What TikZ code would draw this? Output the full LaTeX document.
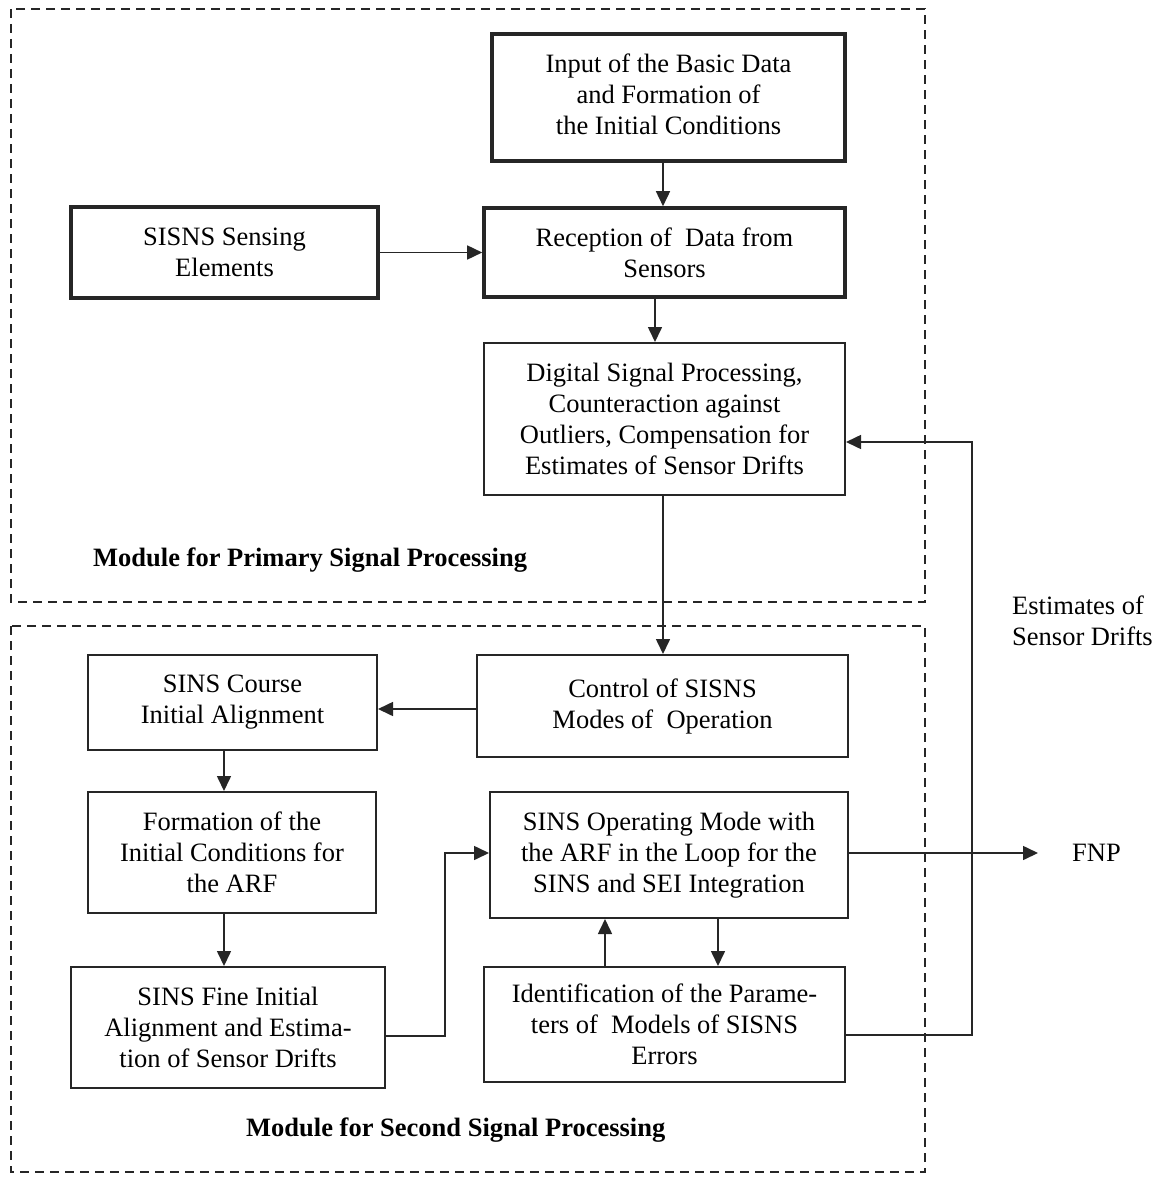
\documentclass[tikz,border=0pt]{standalone}
\usepackage{fontspec}
\setmainfont{Liberation Serif}
\usetikzlibrary{arrows.meta}
\begin{document}
\begin{tikzpicture}[x=1pt,y=-1pt,
  every node/.style={font=\fontsize{26.5}{31}\selectfont, align=center, inner sep=0pt},
  box/.style={draw=black!85, line width=2pt},
  tbox/.style={draw=black!85, line width=3.6pt},
  conn/.style={line width=1.6pt, draw=black!85},
  arr/.style={conn, -{Triangle[length=15pt,width=14pt]}},
  module/.style={draw=black!85, line width=2pt, dash pattern=on 9pt off 6pt},
  lbl/.style={font=\fontsize{26.5}{31}\selectfont\bfseries}
]
\useasboundingbox (0,0) rectangle (1157,1180);
% modules
\draw[module] (11,9) rectangle (925,602);
\draw[module] (11,626) rectangle (925,1172);
% nodes
\node[tbox, minimum width=353pt, minimum height=127pt] (inp) at (668.5,97.5) {\raisebox{6pt}{\begin{tabular}{@{}c@{}}Input of the Basic Data\\and Formation of\\the Initial Conditions\end{tabular}}};
\node[tbox, minimum width=361pt, minimum height=89pt] (rec) at (664.5,252.5) {Reception of\ \ Data from\\Sensors};
\node[tbox, minimum width=307pt, minimum height=91pt] (sens) at (224.5,252.5) {SISNS Sensing\\Elements};
\node[box, minimum width=361pt, minimum height=152pt] (dsp) at (664.5,419) {Digital Signal Processing,\\Counteraction against\\Outliers, Compensation for\\Estimates of Sensor Drifts};
\node[box, minimum width=371pt, minimum height=102pt] (ctrl) at (662.5,706) {Control of SISNS\\Modes of\ \ Operation};
\node[box, minimum width=289pt, minimum height=95pt] (course) at (232.5,702.5) {SINS Course\\Initial Alignment};
\node[box, minimum width=288pt, minimum height=121pt] (form) at (232,852.5) {Formation of the\\Initial Conditions for\\the ARF};
\node[box, minimum width=314pt, minimum height=121pt] (fine) at (228,1027.5) {SINS Fine Initial\\Alignment and Estima-\\tion of Sensor Drifts};
\node[box, minimum width=358pt, minimum height=126pt] (oper) at (669,855) {SINS Operating Mode with\\the ARF in the Loop for the\\SINS and SEI Integration};
\node[box, minimum width=361pt, minimum height=115pt] (ident) at (664.5,1024.5) {Identification of the Parame-\\ters of\ \ Models of SISNS\\Errors};
% labels
\node[lbl, anchor=west] (lp) at (93,560) {Module for Primary Signal Processing};
\node[lbl, anchor=west] (ls) at (246,1130) {Module for Second Signal Processing};
\node[anchor=west, align=left] (est) at (1012,621) {Estimates of\\Sensor Drifts};
\node[anchor=west] (fnp) at (1072,853) {FNP};
\coordinate (fnpin) at (1038,853);
% connectors
\draw[arr] (inp.south -| 663,0) -- (rec.north -| 663,0);
\draw[arr] (sens.east) -- (rec.west);
\draw[arr] (rec.south -| 655,0) -- (dsp.north -| 655,0);
\draw[arr] (dsp.south -| 663,0) -- (ctrl.north -| 663,0);
\draw[arr] (ctrl.west |- 0,709) -- (course.east |- 0,709);
\draw[arr] (course.south -| 224,0) -- (form.north -| 224,0);
\draw[arr] (form.south -| 224,0) -- (fine.north -| 224,0);
\draw[arr] (fine.east |- 0,1036) -- (445,1036) -- (445,853) -- (oper.west |- 0,853);
\draw[arr] (oper.east |- 0,853) -- (fnpin);
\draw[arr] (ident.north -| 605,0) -- (oper.south -| 605,0);
\draw[arr] (oper.south -| 718,0) -- (ident.north -| 718,0);
\draw[arr] (ident.east |- 0,1035) -- (972,1035) -- (972,442) -- (dsp.east |- 0,442);
\end{tikzpicture}
\end{document}
